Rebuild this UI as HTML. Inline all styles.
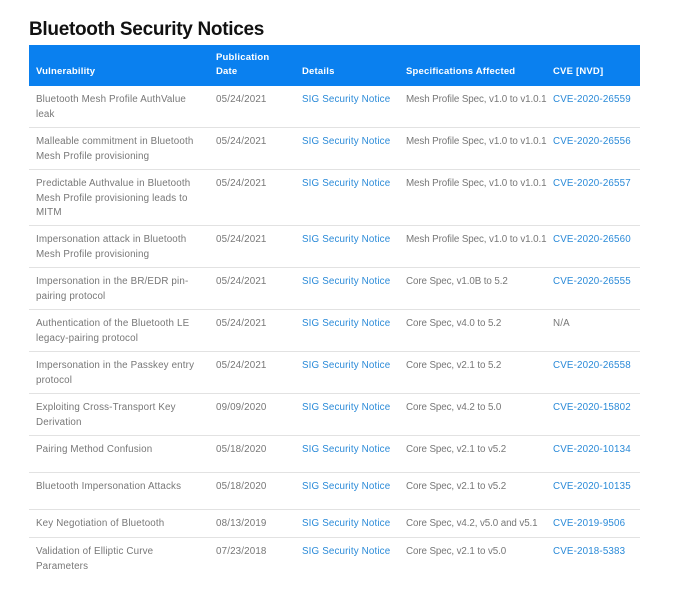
<!DOCTYPE html>
<html><head><meta charset="utf-8"><style>
body{margin:0;width:700px;height:590px;background:#fff;font-family:"Liberation Sans",sans-serif;position:relative;overflow:hidden}
h1{position:absolute;left:29px;top:19px;margin:0;font-size:19px;font-weight:bold;color:#111;letter-spacing:-0.3px}
.hd{position:absolute;left:29px;top:45px;width:611px;height:41px;background:#0a80ef}
.hd div{position:absolute;color:#fff;font-weight:bold;font-size:9.5px;line-height:14px;letter-spacing:0.2px}
.r{position:absolute;left:29px;width:611px;border-bottom:1px solid #e2e2e2}
.r div{position:absolute;top:7px;font-size:9.8px;line-height:14.5px;color:#777;letter-spacing:0.15px;white-space:nowrap}
.r .c1{white-space:normal}
.c1{left:7px;width:163px}.c2{left:187px}.c3{left:273px;color:#2a8ad8!important}.c4{left:377px;letter-spacing:-0.1px!important}.c5{left:524px;color:#2a8ad8!important}
</style></head><body>
<h1>Bluetooth Security Notices</h1>
<div class="hd">
<div style="left:7px;top:20px">Vulnerability</div>
<div style="left:187px;top:6px">Publication<br>Date</div>
<div style="left:273px;top:20px">Details</div>
<div style="left:377px;top:20px">Specifications Affected</div>
<div style="left:524px;top:20px">CVE [NVD]</div>
</div>
<div class="r" style="top:86px;height:41px"><div class="c1">Bluetooth Mesh Profile AuthValue leak</div><div class="c2">05/24/2021</div><div class="c3">SIG Security Notice</div><div class="c4">Mesh Profile Spec, v1.0 to v1.0.1</div><div class="c5">CVE-2020-26559</div></div>
<div class="r" style="top:128px;height:41px"><div class="c1">Malleable commitment in Bluetooth Mesh Profile provisioning</div><div class="c2">05/24/2021</div><div class="c3">SIG Security Notice</div><div class="c4">Mesh Profile Spec, v1.0 to v1.0.1</div><div class="c5">CVE-2020-26556</div></div>
<div class="r" style="top:170px;height:55px"><div class="c1">Predictable Authvalue in Bluetooth Mesh Profile provisioning leads to MITM</div><div class="c2">05/24/2021</div><div class="c3">SIG Security Notice</div><div class="c4">Mesh Profile Spec, v1.0 to v1.0.1</div><div class="c5">CVE-2020-26557</div></div>
<div class="r" style="top:226px;height:41px"><div class="c1">Impersonation attack in Bluetooth Mesh Profile provisioning</div><div class="c2">05/24/2021</div><div class="c3">SIG Security Notice</div><div class="c4">Mesh Profile Spec, v1.0 to v1.0.1</div><div class="c5">CVE-2020-26560</div></div>
<div class="r" style="top:268px;height:41px"><div class="c1">Impersonation in the BR/EDR pin-pairing protocol</div><div class="c2">05/24/2021</div><div class="c3">SIG Security Notice</div><div class="c4">Core Spec, v1.0B to 5.2</div><div class="c5">CVE-2020-26555</div></div>
<div class="r" style="top:310px;height:41px"><div class="c1">Authentication of the Bluetooth LE legacy-pairing protocol</div><div class="c2">05/24/2021</div><div class="c3">SIG Security Notice</div><div class="c4">Core Spec, v4.0 to 5.2</div><div class="c5" style="color:#777!important">N/A</div></div>
<div class="r" style="top:352px;height:41px"><div class="c1">Impersonation in the Passkey entry protocol</div><div class="c2">05/24/2021</div><div class="c3">SIG Security Notice</div><div class="c4">Core Spec, v2.1 to 5.2</div><div class="c5">CVE-2020-26558</div></div>
<div class="r" style="top:394px;height:41px"><div class="c1">Exploiting Cross-Transport Key Derivation</div><div class="c2">09/09/2020</div><div class="c3">SIG Security Notice</div><div class="c4">Core Spec, v4.2 to 5.0</div><div class="c5">CVE-2020-15802</div></div>
<div class="r" style="top:436px;height:36px"><div class="c1">Pairing Method Confusion</div><div class="c2">05/18/2020</div><div class="c3">SIG Security Notice</div><div class="c4">Core Spec, v2.1 to v5.2</div><div class="c5">CVE-2020-10134</div></div>
<div class="r" style="top:473px;height:36px"><div class="c1" style="width:180px">Bluetooth Impersonation Attacks</div><div class="c2">05/18/2020</div><div class="c3">SIG Security Notice</div><div class="c4">Core Spec, v2.1 to v5.2</div><div class="c5">CVE-2020-10135</div></div>
<div class="r" style="top:510px;height:27px"><div class="c1">Key Negotiation of Bluetooth</div><div class="c2">08/13/2019</div><div class="c3">SIG Security Notice</div><div class="c4">Core Spec, v4.2, v5.0 and v5.1</div><div class="c5">CVE-2019-9506</div></div>
<div class="r" style="top:538px;height:40px;border-bottom:none"><div class="c1" style="width:140px">Validation of Elliptic Curve Parameters</div><div class="c2">07/23/2018</div><div class="c3">SIG Security Notice</div><div class="c4">Core Spec, v2.1 to v5.0</div><div class="c5">CVE-2018-5383</div></div>
</body></html>
